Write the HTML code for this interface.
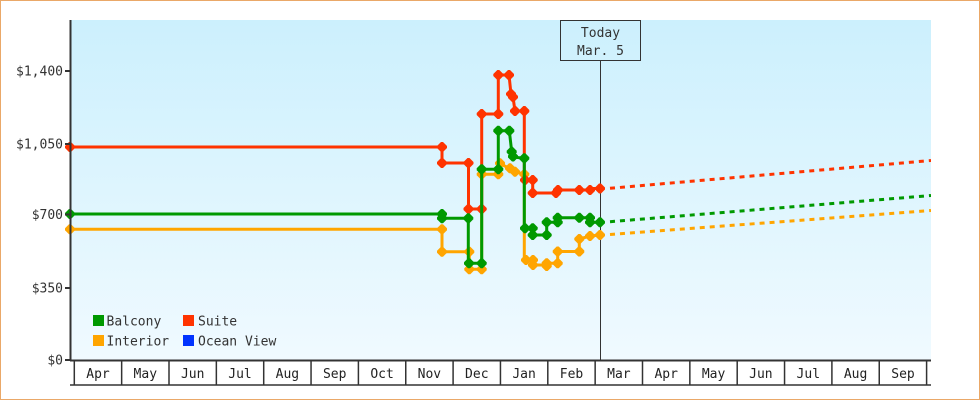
<!DOCTYPE html>
<html><head><meta charset="utf-8"><style>
html,body{margin:0;padding:0;background:#fff;}
svg{display:block;}
text{font-family:"DejaVu Sans Mono","Liberation Mono",monospace;font-size:13px;}
</style></head><body>
<svg width="980" height="400" viewBox="0 0 980 400" xmlns="http://www.w3.org/2000/svg">
<defs>
<linearGradient id="bg" x1="0" y1="0" x2="0" y2="1">
<stop offset="0" stop-color="#ccf0fd"/>
<stop offset="1" stop-color="#f0faff"/>
</linearGradient>
<path id="m" d="M-5,-1 L-1,-5 L1,-5 L5,-1 L5,1 L1,5 L-1,5 L-5,1Z"/>
<clipPath id="pc"><rect x="71" y="20" width="860" height="340"/></clipPath>
</defs>
<rect x="0.5" y="0.5" width="979" height="399" fill="#fff" stroke="#eaa868" stroke-width="1"/>
<rect x="71" y="20" width="860" height="340" fill="url(#bg)"/>

<!-- Today -->
<line x1="600.5" y1="61" x2="600.5" y2="360" stroke="#333" stroke-width="1"/>
<rect x="560.5" y="20.5" width="80" height="40" fill="none" stroke="#333" stroke-width="1"/>
<text x="600.5" y="37" text-anchor="middle" fill="#333">Today</text>
<text x="600.5" y="55" text-anchor="middle" fill="#333">Mar. 5</text>

<g clip-path="url(#pc)" fill="none" stroke-width="3">
<line x1="610" y1="188.3" x2="931" y2="160.5" stroke="#ff3300" stroke-dasharray="5 5"/>
<line x1="610" y1="221.7" x2="931" y2="195.5" stroke="#009900" stroke-dasharray="5 5"/>
<line x1="610" y1="234.5" x2="931" y2="210.5" stroke="#ffa500" stroke-dasharray="5 5"/>
</g>

<!-- Interior -->
<path d="M70,229.3 H442 V251.7 H469.3 V269.3 H481.7 V174.3 H498.3 V163.3 L510,168.3 L515,171.7 L524.3,174.3 V260 H533 V265 H546.7 V263.3 H557.7 V251.5 H579.3 V239 L590,236 L600,235" fill="none" stroke="#ffa500" stroke-width="3"/>
<g fill="#ffa500">
<use href="#m" x="70" y="229.3"/><use href="#m" x="442" y="229.3"/><use href="#m" x="442" y="251.7"/><use href="#m" x="469.3" y="251.7"/><use href="#m" x="469.3" y="269.3"/><use href="#m" x="481.7" y="269.3"/><use href="#m" x="481.7" y="174.3"/><use href="#m" x="498.3" y="174.3"/><use href="#m" x="500" y="163.3"/><use href="#m" x="510" y="168.3"/><use href="#m" x="515" y="171.7"/><use href="#m" x="524.3" y="174.3"/><use href="#m" x="526" y="260"/><use href="#m" x="533" y="260"/><use href="#m" x="533" y="265"/><use href="#m" x="546.7" y="263.3"/><use href="#m" x="546.7" y="266"/><use href="#m" x="557.7" y="263.3"/><use href="#m" x="557.7" y="251.5"/><use href="#m" x="579.3" y="251.5"/><use href="#m" x="579.3" y="239"/><use href="#m" x="590" y="236"/><use href="#m" x="600" y="235"/>
</g>

<!-- Suite -->
<path d="M70,147 H442 V163 H468.5 V209 H481.7 V114 H498.3 V75 H509 L511,94 L513,97 L515,111 H524.3 V180 H532.7 V193 H557 V190 H590 L591,188.5 H600" fill="none" stroke="#ff3300" stroke-width="3"/>
<g fill="#ff3300">
<use href="#m" x="70" y="147"/><use href="#m" x="442" y="147"/><use href="#m" x="442" y="163"/><use href="#m" x="468.5" y="163"/><use href="#m" x="468.5" y="209"/><use href="#m" x="481.7" y="209"/><use href="#m" x="481.7" y="114"/><use href="#m" x="498.3" y="114"/><use href="#m" x="498.3" y="75"/><use href="#m" x="509" y="75"/><use href="#m" x="511" y="94"/><use href="#m" x="513" y="97"/><use href="#m" x="515" y="111"/><use href="#m" x="524.3" y="111"/><use href="#m" x="525" y="180"/><use href="#m" x="532.7" y="180"/><use href="#m" x="532.7" y="193"/><use href="#m" x="556" y="193"/><use href="#m" x="558" y="190"/><use href="#m" x="579.3" y="190"/><use href="#m" x="590" y="190"/><use href="#m" x="600" y="188.5"/>
</g>

<!-- Balcony -->
<path d="M70,214 H442 V218.3 H468.3 V263.3 H481.7 V169.3 H498.3 V130.7 H509.3 L511.7,151.7 L513,157 L524.3,158.3 V228.3 H532.7 V235 H546.7 V222.3 H557.7 V217.7 H590 V222.3 H600" fill="none" stroke="#009900" stroke-width="3"/>
<g fill="#009900">
<use href="#m" x="70" y="214"/><use href="#m" x="442" y="214"/><use href="#m" x="442" y="218.3"/><use href="#m" x="468.3" y="218.3"/><use href="#m" x="469" y="263.3"/><use href="#m" x="481.7" y="263.3"/><use href="#m" x="481.7" y="169.3"/><use href="#m" x="498.3" y="169.3"/><use href="#m" x="498.3" y="130.7"/><use href="#m" x="509.3" y="130.7"/><use href="#m" x="511.7" y="151.7"/><use href="#m" x="513" y="156.5"/><use href="#m" x="524.3" y="158.3"/><use href="#m" x="525" y="228.3"/><use href="#m" x="532.7" y="228.3"/><use href="#m" x="532.7" y="235"/><use href="#m" x="546.7" y="235"/><use href="#m" x="546.7" y="222.3"/><use href="#m" x="557.7" y="222.3"/><use href="#m" x="557.7" y="217.7"/><use href="#m" x="579.3" y="217.7"/><use href="#m" x="590" y="217.7"/><use href="#m" x="590" y="222.3"/><use href="#m" x="600" y="222.3"/>
</g>

<!-- Y axis -->
<line x1="70.5" y1="20" x2="70.5" y2="361" stroke="#333" stroke-width="2"/>
<g stroke="#333" stroke-width="2">
<line x1="65" y1="71" x2="70" y2="71"/>
<line x1="65" y1="144" x2="70" y2="144"/>
<line x1="65" y1="214.5" x2="70" y2="214.5"/>
<line x1="65" y1="288" x2="70" y2="288"/>
<line x1="65" y1="360" x2="70" y2="360"/>
</g>
<g fill="#333" text-anchor="end">
<text x="63" y="75.5">$1,400</text>
<text x="63" y="148.5">$1,050</text>
<text x="63" y="219">$700</text>
<text x="63" y="292.5">$350</text>
<text x="63" y="364.5">$0</text>
</g>

<!-- X axis -->
<line x1="70" y1="360.5" x2="931" y2="360.5" stroke="#333" stroke-width="2"/>
<line x1="70" y1="385" x2="931" y2="385" stroke="#333" stroke-width="1.5"/>
<g stroke="#333" stroke-width="1.5">
<line x1="74.3" y1="361" x2="74.3" y2="385"/><line x1="121.65" y1="361" x2="121.65" y2="385"/><line x1="169" y1="361" x2="169" y2="385"/><line x1="216.35" y1="361" x2="216.35" y2="385"/><line x1="263.7" y1="361" x2="263.7" y2="385"/><line x1="311.05" y1="361" x2="311.05" y2="385"/><line x1="358.4" y1="361" x2="358.4" y2="385"/><line x1="405.75" y1="361" x2="405.75" y2="385"/><line x1="453.1" y1="361" x2="453.1" y2="385"/><line x1="500.45" y1="361" x2="500.45" y2="385"/><line x1="547.8" y1="361" x2="547.8" y2="385"/><line x1="595.15" y1="361" x2="595.15" y2="385"/><line x1="642.5" y1="361" x2="642.5" y2="385"/><line x1="689.85" y1="361" x2="689.85" y2="385"/><line x1="737.2" y1="361" x2="737.2" y2="385"/><line x1="784.55" y1="361" x2="784.55" y2="385"/><line x1="831.9" y1="361" x2="831.9" y2="385"/><line x1="879.25" y1="361" x2="879.25" y2="385"/><line x1="926.6" y1="361" x2="926.6" y2="385"/>
</g>
<g fill="#222" text-anchor="middle">
<text x="98" y="378">Apr</text><text x="145.3" y="378">May</text><text x="192.7" y="378">Jun</text><text x="240" y="378">Jul</text><text x="287.4" y="378">Aug</text><text x="334.7" y="378">Sep</text><text x="382.1" y="378">Oct</text><text x="429.4" y="378">Nov</text><text x="476.8" y="378">Dec</text><text x="524.1" y="378">Jan</text><text x="571.5" y="378">Feb</text><text x="618.9" y="378">Mar</text><text x="666.2" y="378">Apr</text><text x="713.6" y="378">May</text><text x="760.9" y="378">Jun</text><text x="808.3" y="378">Jul</text><text x="855.6" y="378">Aug</text><text x="903" y="378">Sep</text>
</g>

<!-- Legend -->
<rect x="93" y="315" width="11" height="11" fill="#009900"/>
<rect x="183" y="315" width="11" height="11" fill="#ff3300"/>
<rect x="93" y="335" width="11" height="11" fill="#ffa500"/>
<rect x="183" y="335" width="11" height="11" fill="#0033ff"/>
<g fill="#333">
<text x="106.5" y="325.5">Balcony</text>
<text x="198" y="325.5">Suite</text>
<text x="106.5" y="345.5">Interior</text>
<text x="198" y="345.5">Ocean View</text>
</g>
</svg>
</body></html>
